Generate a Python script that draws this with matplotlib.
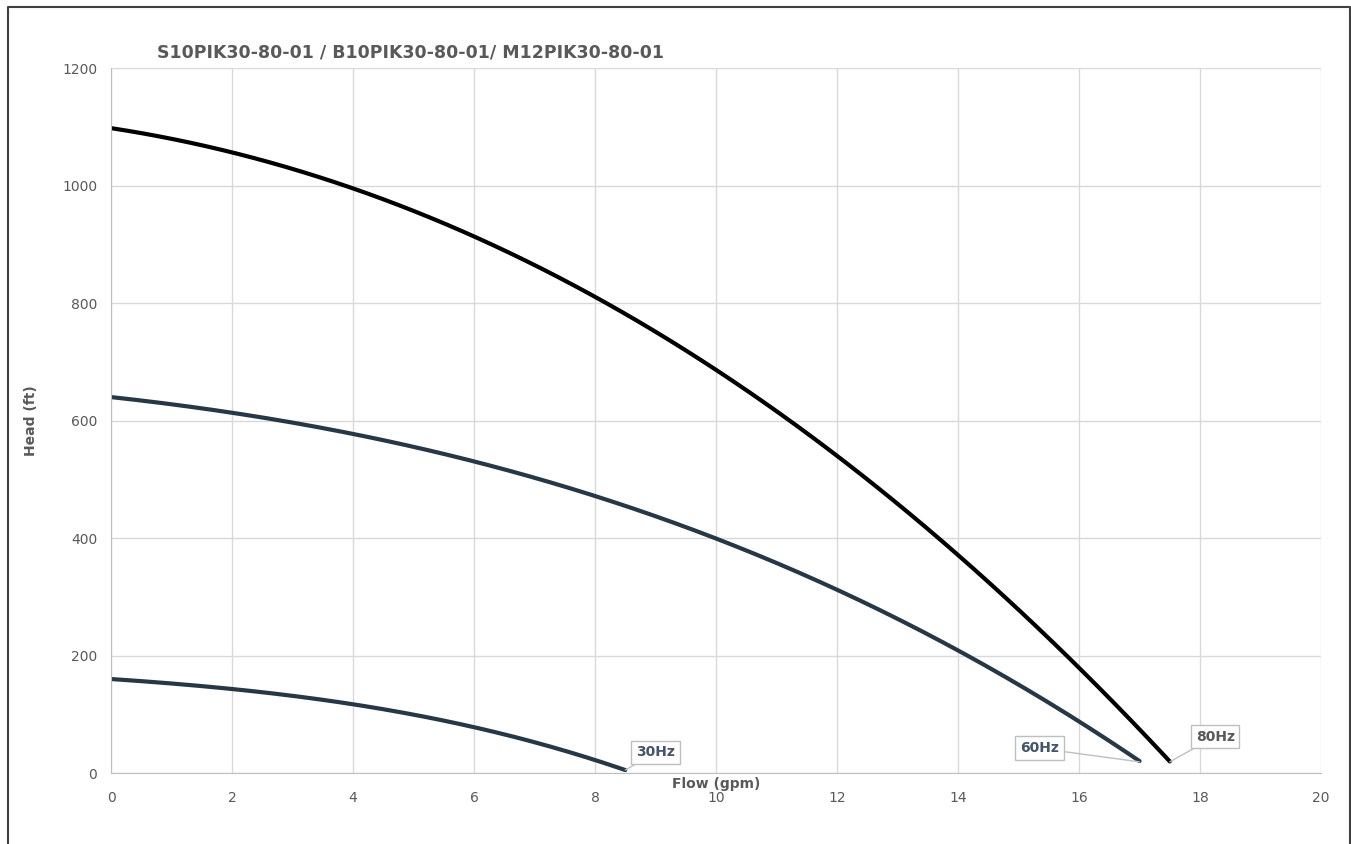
import matplotlib
matplotlib.use("Agg")
import matplotlib.pyplot as plt
from matplotlib.lines import Line2D
import numpy as np

# Data
flow_80 = [0, 2, 4, 6, 8, 10, 12, 14, 16, 17.5]
head_80 = [1097, 1057, 996, 914, 808, 686, 541, 371, 180, 19]

flow_60 = [0, 2, 4, 6, 8, 10, 12, 14, 16, 17]
head_60 = [640, 613, 577, 531, 471, 400, 311, 208, 90, 19]

flow_30 = [0, 2, 4, 6, 8.5]
head_30 = [160, 143, 117, 78, 5]

title = "S10PIK30-80-01 / B10PIK30-80-01/ M12PIK30-80-01"
grey = "#595959"
slate = "#263746"

fig = plt.figure(figsize=(13.51, 8.44), dpi=100)
ax = fig.add_axes([0.0822, 0.0841, 0.8956, 0.8353])

def smooth(x, y):
  # smooth curve through the read points
  xs = np.linspace(x[0], x[-1], 200)
  c = np.polyfit(x, y, 3)
  return xs, np.polyval(c, xs)

xs, ys = smooth(flow_80, head_80)
ax.plot(xs, ys, color="black", lw=3, solid_capstyle="round")
xs, ys = smooth(flow_60, head_60)
ax.plot(xs, ys, color=slate, lw=3, solid_capstyle="round")
xs, ys = smooth(flow_30, head_30)
ax.plot(xs, ys, color=slate, lw=3, solid_capstyle="round")

ax.set_xlim(0, 20)
ax.set_ylim(0, 1200)
ax.set_xticks(np.arange(0, 21, 2))
ax.set_yticks(np.arange(0, 1201, 200))
ax.grid(True, color="#d9d9d9", lw=1)
ax.set_axisbelow(True)
for s in ["top", "right"]:
  ax.spines[s].set_visible(False)
for s in ["left", "bottom"]:
  ax.spines[s].set_color("#bfbfbf")
ax.tick_params(length=0, labelsize=10, colors=grey, pad=10)
ax.tick_params(axis="x", pad=13)

ax.set_xlabel("Flow (gpm)", fontsize=10, fontweight="bold", color=grey)
ax.xaxis.set_label_coords(0.5, -0.005)
ax.xaxis.label.set_va("top")
ax.set_ylabel("Head (ft)", fontsize=10, fontweight="bold", color=grey)
ax.yaxis.set_label_coords(-0.06, 0.5)

fig.text(0.116, 0.938, title, fontsize=12.5, fontweight="bold", color=grey, va="center")

box = dict(boxstyle="square,pad=0.35", fc="white", ec="#bfbfbf", lw=1)
arrow = dict(arrowstyle="-", color="#bfbfbf", lw=1, shrinkA=0, shrinkB=0)
ax.annotate("30Hz", xy=(flow_30[-1], head_30[-1]), xytext=(9.0, 35), fontsize=10,
            fontweight="bold", color="#44546a", bbox=box, arrowprops=arrow, ha="center", va="center")
ax.annotate("60Hz", xy=(flow_60[-1], head_60[-1]), xytext=(15.35, 42), fontsize=10,
            fontweight="bold", color="#44546a", bbox=box, arrowprops=arrow, ha="center", va="center")
ax.annotate("80Hz", xy=(flow_80[-1], head_80[-1]), xytext=(18.25, 62), fontsize=10,
            fontweight="bold", color=grey, bbox=box, arrowprops=arrow, ha="center", va="center")

# outer frame (open at bottom)
fig.add_artist(Line2D([0.006, 0.006, 0.9995, 0.9995], [0.0, 0.9915, 0.9915, 0.0],
                      transform=fig.transFigure, color="#404040", lw=1.5))

fig.savefig("out.png", dpi=100)
